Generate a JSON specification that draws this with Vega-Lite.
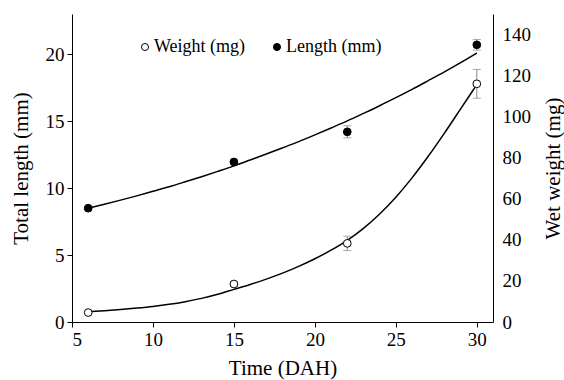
{
  "$schema": "https://vega.github.io/schema/vega-lite/v6.json",
  "width": 421,
  "height": 308,
  "autosize": "none",
  "padding": {"left": 72, "top": 14, "right": 71, "bottom": 58},
  "config": {
    "font": "Liberation Serif",
    "view": {"stroke": null},
    "axis": {
      "grid": false,
      "domainColor": "black",
      "tickColor": "black",
      "labelColor": "black",
      "titleColor": "black",
      "labelFont": "Liberation Serif",
      "titleFont": "Liberation Serif",
      "labelFontSize": 19,
      "titleFontSize": 21,
      "titleFontWeight": "normal",
      "tickSize": 5,
      "labelPadding": 3
    },
    "legend": {
      "labelFont": "Liberation Serif",
      "labelFontSize": 18,
      "labelColor": "black"
    }
  },
  "datasets": {
    "obs": [
      {"t": 6, "length": 8.5, "lenLo": 8.4, "lenHi": 8.6, "weight": 4.6, "wLo": 4.2, "wHi": 5.0},
      {"t": 15, "length": 11.95, "lenLo": 11.8, "lenHi": 12.1, "weight": 18.5, "wLo": 17.5, "wHi": 19.5},
      {"t": 22, "length": 14.2, "lenLo": 13.75, "lenHi": 14.65, "weight": 38.3, "wLo": 34.8, "wHi": 41.8},
      {"t": 30, "length": 20.7, "lenLo": 20.3, "lenHi": 21.1, "weight": 116, "wLo": 109, "wHi": 123}
    ],
    "fit": [
      {"t": 6, "lenFit": 8.50, "wFit": 5.0},
      {"t": 7, "lenFit": 8.79, "wFit": 5.5},
      {"t": 8, "lenFit": 9.10, "wFit": 6.1},
      {"t": 9, "lenFit": 9.42, "wFit": 6.8},
      {"t": 10, "lenFit": 9.76, "wFit": 7.6},
      {"t": 11, "lenFit": 10.10, "wFit": 8.6},
      {"t": 12, "lenFit": 10.47, "wFit": 9.9},
      {"t": 13, "lenFit": 10.85, "wFit": 11.5},
      {"t": 14, "lenFit": 11.25, "wFit": 13.5},
      {"t": 15, "lenFit": 11.66, "wFit": 15.9},
      {"t": 16, "lenFit": 12.10, "wFit": 18.3},
      {"t": 17, "lenFit": 12.54, "wFit": 20.9},
      {"t": 18, "lenFit": 13.00, "wFit": 23.8},
      {"t": 19, "lenFit": 13.47, "wFit": 27.1},
      {"t": 20, "lenFit": 13.97, "wFit": 30.8},
      {"t": 21, "lenFit": 14.49, "wFit": 35.0},
      {"t": 22, "lenFit": 15.02, "wFit": 39.8},
      {"t": 23, "lenFit": 15.58, "wFit": 45.6},
      {"t": 24, "lenFit": 16.15, "wFit": 52.6},
      {"t": 25, "lenFit": 16.75, "wFit": 60.8},
      {"t": 26, "lenFit": 17.37, "wFit": 70.2},
      {"t": 27, "lenFit": 18.02, "wFit": 80.7},
      {"t": 28, "lenFit": 18.68, "wFit": 92.0},
      {"t": 29, "lenFit": 19.37, "wFit": 103.8},
      {"t": 30, "lenFit": 20.09, "wFit": 115.6}
    ]
  },
  "encoding": {
    "x": {
      "field": "t",
      "type": "quantitative",
      "scale": {"domain": [5, 31], "nice": false, "zero": false},
      "axis": {"values": [5, 10, 15, 20, 25, 30], "title": "Time (DAH)", "titlePadding": 8}
    }
  },
  "layer": [
    {
      "layer": [
        {
          "data": {"name": "fit"},
          "mark": {"type": "line", "color": "black", "strokeWidth": 1.5, "interpolate": "monotone"},
          "encoding": {
            "y": {
              "field": "lenFit",
              "type": "quantitative",
              "scale": {"domain": [0, 23], "nice": false},
              "axis": {"orient": "left", "values": [0, 5, 10, 15, 20], "title": "Total length (mm)", "titlePadding": 14}
            }
          }
        },
        {
          "data": {"name": "obs"},
          "mark": {"type": "rule", "color": "#888888", "strokeWidth": 1},
          "encoding": {
            "y": {"field": "lenLo", "type": "quantitative"},
            "y2": {"field": "lenHi"}
          }
        },
        {
          "data": {"name": "obs"},
          "mark": {"type": "tick", "orient": "horizontal", "color": "#888888", "size": 8, "thickness": 1},
          "encoding": {"y": {"field": "lenLo", "type": "quantitative"}}
        },
        {
          "data": {"name": "obs"},
          "mark": {"type": "tick", "orient": "horizontal", "color": "#888888", "size": 8, "thickness": 1},
          "encoding": {"y": {"field": "lenHi", "type": "quantitative"}}
        },
        {
          "data": {"name": "obs"},
          "mark": {"type": "point", "shape": "circle", "filled": true, "stroke": "black", "strokeWidth": 1, "size": 60, "opacity": 1},
          "encoding": {
            "y": {"field": "length", "type": "quantitative"},
            "fill": {
              "datum": "Length (mm)",
              "type": "nominal",
              "scale": {"domain": ["Weight (mg)", "Length (mm)"], "range": ["white", "black"]},
              "legend": {
                "orient": "none",
                "legendX": 64,
                "legendY": 24,
                "direction": "horizontal",
                "title": null,
                "symbolType": "circle",
                "symbolSize": 50,
                "symbolStrokeColor": "black",
                "symbolStrokeWidth": 1,
                "columnPadding": 22,
                "labelOffset": 0
              }
            }
          }
        }
      ]
    },
    {
      "layer": [
        {
          "data": {"name": "fit"},
          "mark": {"type": "line", "color": "black", "strokeWidth": 1.5, "interpolate": "monotone"},
          "encoding": {
            "y": {
              "field": "wFit",
              "type": "quantitative",
              "scale": {"domain": [0, 150], "nice": false},
              "axis": {"orient": "right", "values": [0, 20, 40, 60, 80, 100, 120, 140], "title": "Wet weight (mg)", "titleAngle": 270, "titlePadding": 33, "ticks": false, "labelPadding": 9}
            }
          }
        },
        {
          "data": {"name": "obs"},
          "mark": {"type": "rule", "color": "#888888", "strokeWidth": 1},
          "encoding": {
            "y": {"field": "wLo", "type": "quantitative"},
            "y2": {"field": "wHi"}
          }
        },
        {
          "data": {"name": "obs"},
          "mark": {"type": "tick", "orient": "horizontal", "color": "#888888", "size": 8, "thickness": 1},
          "encoding": {"y": {"field": "wLo", "type": "quantitative"}}
        },
        {
          "data": {"name": "obs"},
          "mark": {"type": "tick", "orient": "horizontal", "color": "#888888", "size": 8, "thickness": 1},
          "encoding": {"y": {"field": "wHi", "type": "quantitative"}}
        },
        {
          "data": {"name": "obs"},
          "mark": {"type": "point", "shape": "circle", "filled": true, "stroke": "black", "strokeWidth": 1, "size": 60, "opacity": 1},
          "encoding": {
            "y": {"field": "weight", "type": "quantitative"},
            "fill": {"datum": "Weight (mg)", "type": "nominal"}
          }
        }
      ]
    }
  ],
  "resolve": {"scale": {"y": "independent"}}
}
